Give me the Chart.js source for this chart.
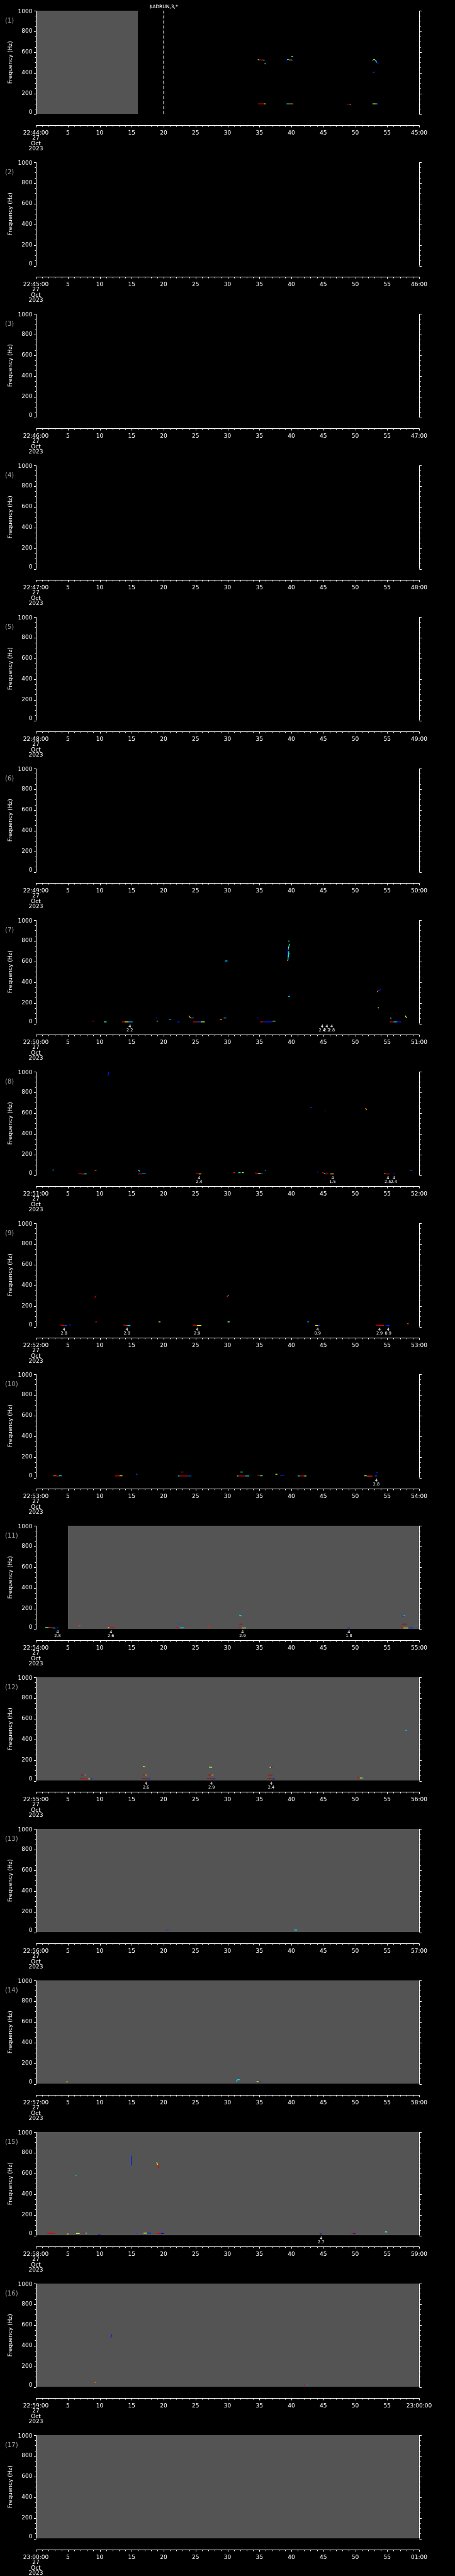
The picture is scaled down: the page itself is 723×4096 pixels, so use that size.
<!DOCTYPE html>
<html>
<head>
<meta charset="utf-8">
<script src="https://cdn.jsdelivr.net/npm/chart.js@4.4.0/dist/chart.umd.min.js"></script>
<style>
  html, body { margin: 0; padding: 0; background: #000; }
  #wrap { position: relative; width: 723px; height: 4096px; background: #000; overflow: hidden; }
  #wrap canvas { position: absolute; left: 0; }
</style>
</head>
<body>
<div id="wrap"></div>
<script>
// x = seconds inside each minute, y = frequency (Hz)
const tickSeconds = [5, 10, 15, 20, 25, 30, 35, 40, 45, 50, 55];
const tickLabels = ["5", "10", "15", "20", "25", "30", "35", "40", "45", "50", "55"];
const freqTicks = [0, 200, 400, 600, 800, 1000];
const dateLines = ["27", "Oct", "2023"];

const panelStarts = ["22:44:00", "22:45:00", "22:46:00", "22:47:00", "22:48:00", "22:49:00",
  "22:50:00", "22:51:00", "22:52:00", "22:53:00", "22:54:00", "22:55:00", "22:56:00",
  "22:57:00", "22:58:00", "22:59:00", "23:00:00"];
const panelEnds = ["45:00", "46:00", "47:00", "48:00", "49:00", "50:00", "51:00", "52:00",
  "53:00", "54:00", "55:00", "56:00", "57:00", "58:00", "59:00", "23:00:00", "01:00"];

// no-data (grey) spans per panel: [from s, to s]
const grayRanges = [[[0, 16]], [], [], [], [], [], [], [], [], [], [[5, 60]],
  [[0, 60]], [[0, 60]], [[0, 60]], [[0, 60]], [[0, 60]], [[0, 60]]];

// event marker in panel 1
const markerTimes = [20];
const markerLabels = ["$ADRUN,3,*"];

// spectrogram traces: [t0, t1, f0, f1, level 0..1]
const marks1 = [
  [34.75, 34.9, 530, 523, 0.5], [34.9, 35.5, 523, 523, 0.85], [35.5, 35.8, 523, 520, 0.75], [35.8, 35.97, 523, 523, 0.12],
  [35.8, 36.0, 490, 484, 0.35],
  [39.2, 39.3, 505, 518, 0.1], [39.3, 39.6, 528, 528, 0.35], [39.6, 40.1, 523, 523, 0.7], [40.1, 40.3, 520, 518, 0.15],
  [40.0, 40.25, 559, 559, 0.45],
  [52.65, 52.8, 520, 520, 0.8], [52.8, 53.1, 526, 526, 0.6], [53.1, 53.4, 524, 500, 0.35], [53.4, 53.65, 494, 494, 0.15],
  [52.7, 53.05, 405, 405, 0.2],
  [34.75, 35.7, 100, 100, 0.9], [35.7, 35.97, 100, 100, 0.6],
  [39.25, 39.7, 100, 100, 0.35], [39.7, 40.25, 100, 100, 0.75],
  [48.65, 48.95, 96, 96, 0.95], [48.95, 49.1, 96, 96, 0.15], [49.1, 49.3, 96, 96, 0.65],
  [52.7, 53.2, 100, 100, 0.6], [53.2, 53.45, 100, 100, 0.35], [53.45, 53.6, 98, 98, 0.15]
];
const marks7 = [
  [8.84, 9.1, 24, 24, 0.9], [10.66, 11.07, 16, 16, 0.4],
  [13.5, 13.9, 16, 16, 0.9], [13.9, 14.5, 16, 16, 0.6], [14.5, 15.15, 16, 16, 0.3],
  [18.8, 19.05, 54, 54, 0.15], [18.9, 19.1, 24, 24, 0.5], [20.8, 21.2, 37, 37, 0.25], [22.1, 22.5, 16, 16, 0.15],
  [23.95, 24.2, 76, 54, 0.7], [24.2, 24.7, 54, 54, 0.25],
  [24.6, 25.3, 16, 16, 0.9], [25.3, 25.8, 16, 16, 0.2], [25.8, 26.45, 16, 16, 0.55],
  [28.8, 29.15, 37, 37, 0.75], [29.4, 29.8, 54, 54, 0.3], [29.6, 30.0, 605, 605, 0.3], [34.65, 34.9, 54, 54, 0.15],
  [35.1, 35.6, 16, 16, 0.9], [35.6, 37.05, 16, 16, 0.15], [37.05, 37.5, 24, 24, 0.5],
  [39.3, 39.45, 609, 609, 0.8], [39.45, 39.6, 609, 700, 0.35], [39.35, 39.5, 673, 725, 0.12],
  [39.5, 39.6, 714, 742, 0.55], [39.6, 39.7, 742, 771, 0.35], [39.5, 39.7, 797, 797, 0.45],
  [39.5, 39.6, 642, 678, 0.65], [39.6, 39.7, 678, 680, 0.55], [39.5, 39.8, 262, 262, 0.3],
  [53.4, 53.6, 305, 318, 0.75], [53.6, 54.0, 318, 327, 0.15], [53.55, 53.7, 155, 150, 0.6],
  [55.55, 55.6, 60, 40, 0.3],
  [55.4, 56.0, 16, 16, 0.9], [56.0, 56.5, 16, 16, 0.35], [56.5, 57.2, 16, 16, 0.15],
  [57.8, 58.05, 76, 54, 0.6]
];
const marks8 = [
  [11.3, 11.4, 961, 1000, 0.15], [2.6, 2.85, 50, 50, 0.3],
  [6.63, 7.0, 16, 16, 0.95], [7.0, 7.5, 11, 11, 0.9], [7.5, 7.95, 11, 11, 0.4],
  [9.2, 9.5, 46, 46, 0.8], [16.0, 16.3, 47, 37, 0.35],
  [16.0, 16.6, 11, 11, 0.9], [16.6, 17.2, 14, 14, 0.25],
  [25.1, 25.5, 14, 14, 0.9], [25.5, 25.9, 11, 11, 0.65],
  [30.9, 31.15, 24, 24, 0.85], [31.7, 32.05, 24, 24, 0.4], [32.25, 32.55, 24, 24, 0.55],
  [34.3, 34.8, 20, 16, 0.9], [34.8, 35.2, 18, 18, 0.6], [35.2, 35.55, 14, 14, 0.2],
  [35.85, 36.0, 46, 46, 0.3], [43.0, 43.2, 656, 656, 0.2], [45.3, 45.4, 619, 622, 0.15],
  [51.6, 51.8, 648, 628, 0.75], [44.0, 44.2, 29, 29, 0.15],
  [44.8, 45.1, 24, 20, 0.9], [45.1, 45.3, 16, 16, 0.35], [45.3, 45.8, 11, 11, 0.9], [46.1, 46.65, 11, 11, 0.65],
  [54.55, 54.7, 14, 14, 0.65], [54.7, 55.3, 11, 11, 0.9], [55.3, 55.5, 11, 11, 0.15],
  [55.9, 56.2, 11, 11, 0.15], [58.55, 58.95, 46, 46, 0.2]
];
const marks9 = [
  [3.8, 4.5, 16, 12, 0.9], [4.5, 4.85, 12, 12, 0.2], [5.2, 5.5, 16, 16, 0.15],
  [9.2, 9.45, 280, 300, 0.9], [9.3, 9.55, 46, 46, 0.9],
  [13.7, 14.3, 16, 12, 0.9], [14.3, 14.8, 12, 12, 0.35], [19.2, 19.5, 46, 46, 0.55],
  [24.6, 25.2, 16, 12, 0.9], [25.2, 25.9, 12, 12, 0.6],
  [29.9, 30.1, 290, 300, 0.85], [30.1, 30.25, 300, 300, 0.3], [30.0, 30.35, 46, 46, 0.5],
  [42.5, 42.75, 46, 46, 0.3], [43.75, 44.2, 11, 11, 0.65], [44.2, 44.45, 11, 11, 0.15],
  [53.25, 54.5, 14, 12, 0.9], [54.75, 55.4, 11, 11, 0.15], [58.15, 58.35, 29, 29, 0.8]
];
const marks10 = [
  [2.7, 3.2, 18, 18, 0.8], [3.2, 3.6, 14, 14, 0.95], [3.6, 4.05, 18, 18, 0.35],
  [12.35, 13.1, 16, 16, 0.9], [13.1, 13.55, 18, 18, 0.65], [15.65, 15.9, 33, 33, 0.2],
  [22.75, 23.1, 54, 54, 0.9],
  [22.25, 22.5, 16, 16, 0.35], [22.5, 23.7, 16, 16, 0.9], [23.7, 24.35, 16, 16, 0.2],
  [32.0, 32.4, 54, 54, 0.4],
  [31.5, 31.7, 16, 16, 0.5], [31.7, 32.8, 16, 16, 0.9], [32.8, 33.4, 16, 16, 0.35],
  [34.7, 35.1, 22, 22, 0.9], [35.1, 35.5, 18, 18, 0.45], [37.5, 37.8, 33, 33, 0.6], [38.3, 38.9, 20, 20, 0.15],
  [41.0, 41.3, 16, 16, 0.4], [41.3, 42.0, 16, 16, 0.9], [42.0, 42.35, 16, 16, 0.55],
  [51.4, 51.8, 18, 18, 0.55], [51.8, 52.7, 14, 14, 0.85], [53.05, 53.4, 16, 16, 0.2], [53.25, 53.55, 46, 46, 0.15]
];
const marks11 = [
  [1.45, 2.0, 16, 16, 0.5], [2.0, 2.6, 16, 16, 0.9], [2.6, 3.0, 11, 11, 0.35], [3.0, 3.5, 11, 11, 0.15],
  [6.65, 7.0, 33, 33, 0.8], [11.3, 11.5, 16, 16, 0.65], [11.5, 12.35, 16, 16, 0.9],
  [22.2, 22.6, 52, 50, 0.2], [21.95, 22.5, 14, 11, 0.9], [22.5, 23.2, 13, 13, 0.35],
  [26.85, 27.3, 24, 24, 0.85], [31.85, 32.2, 136, 128, 0.35], [31.85, 32.35, 50, 50, 0.95],
  [31.7, 32.2, 14, 11, 0.9], [32.2, 32.9, 11, 11, 0.55], [48.75, 49.2, 11, 11, 0.15],
  [57.45, 57.55, 118, 132, 0.15], [57.55, 57.8, 132, 132, 0.35], [57.3, 58.05, 50, 50, 0.95],
  [57.15, 57.5, 18, 11, 0.9], [57.5, 58.3, 11, 11, 0.6], [58.3, 59.05, 11, 11, 0.15],
  [59.35, 59.7, 33, 33, 0.25]
];
const marks12 = [
  [7.1, 7.6, 57, 55, 0.95], [7.6, 7.85, 55, 55, 0.35],
  [6.98, 7.3, 22, 17, 0.95], [7.3, 8.2, 17, 17, 0.9], [8.2, 8.5, 17, 17, 0.6], [8.5, 8.88, 17, 17, 0.15],
  [16.75, 17.1, 139, 133, 0.6], [16.75, 17.1, 57, 55, 0.95], [17.1, 17.35, 55, 55, 0.65],
  [16.6, 17.5, 22, 17, 0.95], [17.5, 17.85, 17, 17, 0.15],
  [27.1, 27.6, 132, 130, 0.55], [27.0, 27.5, 57, 55, 0.95], [27.5, 27.75, 55, 55, 0.65],
  [26.8, 27.7, 22, 17, 0.95], [27.7, 28.1, 17, 17, 0.15],
  [36.6, 36.85, 130, 130, 0.65], [36.85, 37.0, 130, 130, 0.15], [36.4, 37.05, 57, 53, 0.95],
  [36.25, 37.0, 22, 17, 0.95], [37.0, 37.4, 17, 17, 0.1],
  [50.3, 50.7, 27, 27, 0.9], [50.7, 51.0, 27, 27, 0.65], [51.0, 51.25, 27, 27, 0.35],
  [57.8, 58.1, 487, 487, 0.3]
];
const marks13 = [[20.3, 20.6, 22, 22, 0.9], [20.6, 20.95, 22, 22, 0.2], [40.45, 40.9, 22, 22, 0.35]];
const marks14 = [
  [4.75, 5.0, 19, 19, 0.65], [31.4, 31.55, 22, 41, 0.35], [31.55, 31.9, 41, 41, 0.35],
  [34.55, 34.9, 22, 22, 0.65], [34.9, 35.15, 22, 22, 0.15]
];
const marks15 = [
  [1.8, 2.95, 19, 19, 0.9], [4.85, 5.1, 15, 15, 0.65], [6.2, 6.4, 583, 583, 0.35], [6.3, 6.85, 19, 19, 0.55],
  [7.35, 7.7, 22, 22, 0.9], [7.7, 8.0, 22, 22, 0.35], [9.7, 10.1, 11, 11, 0.15],
  [14.9, 14.95, 680, 770, 0.15], [15.7, 15.9, 19, 19, 0.2],
  [16.85, 17.4, 22, 22, 0.6], [17.4, 18.0, 22, 22, 0.15],
  [18.9, 19.1, 707, 680, 0.65], [19.1, 19.2, 680, 650, 0.9],
  [18.95, 19.6, 19, 19, 0.9], [19.6, 20.05, 19, 19, 0.1], [44.45, 44.75, 15, 15, 0.05],
  [49.4, 49.7, 19, 19, 0.9], [49.7, 50.0, 17, 17, 0.1], [54.65, 55.0, 34, 34, 0.45]
];
const marks16 = [[9.2, 9.4, 45, 45, 0.75], [11.7, 11.9, 477, 508, 0.15], [41.95, 42.3, 19, 19, 0.9], [42.3, 42.65, 22, 15, 0.25]];

// "4 / x.x" annotations under the plot: [t, value]
const notes7 = [[14.7, "2.2"], [44.8, "2.4"], [45.55, "2.2"], [46.3, "2.8"]];
const notes8 = [[25.55, "2.4"], [46.45, "1.5"], [55.1, "2.5"], [56.05, "2.4"]];
const notes9 = [[4.4, "2.8"], [14.25, "2.8"], [25.25, "2.9"], [44.1, "0.9"], [53.8, "2.9"], [55.15, "0.9"]];
const notes10 = [[53.3, "2.8"]];
const notes11 = [[3.4, "2.8"], [11.75, "2.6"], [32.35, "2.9"], [49.0, "1.8"]];
const notes12 = [[17.25, "2.6"], [27.5, "2.9"], [36.85, "2.4"]];
const notes15 = [[44.65, "2.7"]];

const panelMarks = [marks1, [], [], [], [], [], marks7, marks8, marks9, marks10, marks11,
  marks12, marks13, marks14, marks15, marks16, []];
const panelNotes = [[], [], [], [], [], [], notes7, notes8, notes9, notes10, notes11,
  notes12, [], [], notes15, [], []];

const S = 723 / 1024;
const PANEL_H = 4096 / 17;
const FONT = "DejaVu Sans";

function jet(v) {
  const c = x => Math.round(255 * Math.max(0, Math.min(1, x)));
  return `rgb(${c(1.5 - Math.abs(4 * v - 3))},${c(1.5 - Math.abs(4 * v - 2))},${c(1.5 - Math.abs(4 * v - 1))})`;
}

const idlAxes = {
  id: "idlAxes",
  afterDatasetsDraw(chart, args, opts) {
    const ctx = chart.ctx;
    const xs = chart.scales.x, ys = chart.scales.y;
    const a = chart.chartArea;
    const left = Math.round(a.left) + 0.5, right = Math.round(a.right) + 0.5;
    const yTop = ys.getPixelForValue(1000), yBot = ys.getPixelForValue(0);
    ctx.save();
    ctx.strokeStyle = "#fff";
    ctx.fillStyle = "#fff";
    ctx.lineWidth = 1;

    // frequency axes, left and right
    ctx.beginPath();
    ctx.moveTo(left, yTop); ctx.lineTo(left, yBot);
    ctx.moveTo(right, yTop); ctx.lineTo(right, yBot);
    for (let f = 0; f <= 1000; f += 50) {
      const py = Math.round(ys.getPixelForValue(f)) + 0.5;
      const len = f % 200 === 0 ? 3.5 : 2;
      ctx.moveTo(left - len, py); ctx.lineTo(left, py);
      ctx.moveTo(right, py); ctx.lineTo(right + len, py);
    }
    ctx.stroke();
    ctx.font = `9px "${FONT}"`;
    ctx.textAlign = "right";
    ctx.textBaseline = "middle";
    freqTicks.forEach(f => {
      let py = ys.getPixelForValue(f);
      if (f === 1000) py += 2;
      if (f === 0) py -= 3;
      ctx.fillText(String(f), left - 6, py);
    });

    // frequency title
    ctx.save();
    ctx.translate(16.5, (yTop + yBot) / 2);
    ctx.rotate(-Math.PI / 2);
    ctx.textAlign = "center";
    ctx.fillText("Frequency (Hz)", 0, 0);
    ctx.restore();

    // panel number
    ctx.fillStyle = "#a0a0a0";
    ctx.textAlign = "left";
    ctx.font = `10px "${FONT}"`;
    ctx.fillText(`(${opts.index + 1})`, 8, yTop + 16.5);
    ctx.fillStyle = "#fff";

    // time axis, detached below the plot
    const ax = Math.round(yBot + 17) + 0.5;
    ctx.beginPath();
    ctx.moveTo(left, ax); ctx.lineTo(right, ax);
    for (let s = 0; s <= 60; s++) {
      const px = Math.round(xs.getPixelForValue(s)) + 0.5;
      ctx.moveTo(px, ax); ctx.lineTo(px, ax + (s % 5 === 0 ? 3 : 2));
    }
    ctx.stroke();
    ctx.font = `9px "${FONT}"`;
    ctx.textAlign = "center";
    tickSeconds.forEach((s, i) => ctx.fillText(tickLabels[i], xs.getPixelForValue(s), ax + 12));
    ctx.fillText(opts.start, xs.getPixelForValue(0), ax + 12);
    ctx.fillText(opts.end, xs.getPixelForValue(60), ax + 12);
    dateLines.forEach((d, i) => ctx.fillText(d, xs.getPixelForValue(0), ax + 20.5 + i * 8.5));

    // annotations below the plot
    ctx.font = `6.5px "${FONT}"`;
    opts.notes.forEach(n => {
      const px = xs.getPixelForValue(n[0]);
      ctx.fillText("4", px, yBot + 4.5);
      ctx.fillText(n[1], px, yBot + 10.8);
    });

    // marker labels
    ctx.font = `7.5px "${FONT}"`;
    opts.markers.forEach((t, i) => ctx.fillText(markerLabels[i], xs.getPixelForValue(t), yTop - 6));
    ctx.restore();
  }
};

const wrap = document.getElementById("wrap");

panelStarts.forEach((start, i) => {
  const cv = document.createElement("canvas");
  cv.width = 723;
  cv.height = 241;
  cv.style.top = Math.round(i * PANEL_H) + "px";
  wrap.appendChild(cv);

  const datasets = [];
  panelMarks[i].forEach(m => {
    datasets.push({
      data: [{ x: m[0], y: m[2] }, { x: m[1], y: m[3] }],
      borderColor: jet(m[4]),
      borderWidth: 1.3,
      pointRadius: 0,
      fill: false,
      order: 0
    });
  });
  const markers = i === 0 ? markerTimes : [];
  markers.forEach(t => {
    datasets.push({
      data: [{ x: t, y: 0 }, { x: t, y: 1000 }],
      borderColor: "#fff",
      borderWidth: 1,
      borderDash: [5, 3],
      pointRadius: 0,
      fill: false,
      order: 1
    });
  });
  grayRanges[i].forEach(g => {
    datasets.push({
      data: [{ x: g[0], y: 1000 }, { x: g[1], y: 1000 }],
      borderWidth: 0,
      borderColor: "#545454",
      backgroundColor: "#545454",
      pointRadius: 0,
      fill: "start",
      order: 10
    });
  });

  new Chart(cv.getContext("2d"), {
    type: "line",
    data: { datasets },
    options: {
      responsive: false,
      animation: false,
      devicePixelRatio: 1,
      layout: { padding: { left: 57, right: 57, top: 17, bottom: 59.5 } },
      scales: {
        x: { type: "linear", min: 0, max: 60, display: false },
        y: { type: "linear", min: 0, max: 1000, display: false }
      },
      plugins: {
        legend: { display: false },
        tooltip: { enabled: false },
        idlAxes: { index: i, start, end: panelEnds[i], notes: panelNotes[i], markers }
      }
    },
    plugins: [idlAxes]
  });
});
</script>
</body>
</html>
